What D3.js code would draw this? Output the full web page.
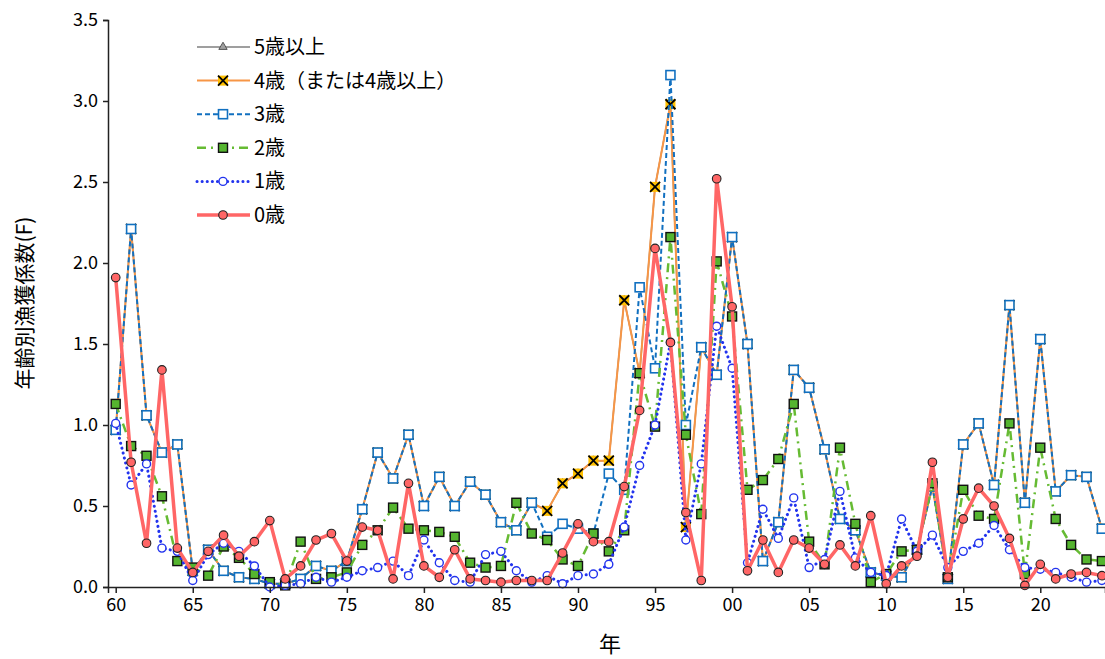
<!DOCTYPE html>
<html><head><meta charset="utf-8">
<script src="https://cdn.jsdelivr.net/npm/d3@7"></script>
<style>body{margin:0;background:#fff}text{font-family:"Noto Sans CJK JP","DejaVu Sans",sans-serif;fill:#000}</style>
</head><body><svg id="c" width="1105" height="659"></svg>
<script>
const years = d3.range(1960, 2025);
const age0 = [1.91,0.77,0.27,1.34,0.24,0.09,0.22,0.32,0.19,0.28,0.41,0.05,0.13,0.29,0.33,0.16,0.37,0.35,0.05,0.64,0.13,0.06,0.23,0.05,0.04,0.03,0.04,0.04,0.04,0.21,0.39,0.28,0.28,0.62,1.09,2.09,1.51,0.46,0.04,2.52,1.73,0.10,0.29,0.09,0.29,0.24,0.14,0.26,0.13,0.44,0.02,0.13,0.19,0.77,0.06,0.42,0.61,0.50,0.30,0.01,0.14,0.05,0.08,0.09,0.07];
const age1 = [1.01,0.63,0.76,0.24,0.22,0.04,0.20,0.27,0.22,0.13,0.00,0.01,0.02,0.06,0.03,0.06,0.10,0.12,0.16,0.07,0.29,0.15,0.04,0.03,0.20,0.22,0.10,0.03,0.07,0.02,0.07,0.08,0.14,0.37,0.75,1.00,1.51,0.29,0.76,1.61,1.35,0.15,0.48,0.30,0.55,0.12,0.17,0.59,0.18,0.09,0.07,0.42,0.22,0.32,0.12,0.22,0.27,0.38,0.23,0.12,0.11,0.09,0.06,0.03,0.04];
const age2 = [1.13,0.87,0.81,0.56,0.16,0.12,0.07,0.25,0.18,0.08,0.03,0.01,0.28,0.05,0.06,0.09,0.26,0.35,0.49,0.36,0.35,0.34,0.31,0.15,0.12,0.13,0.52,0.33,0.29,0.17,0.13,0.33,0.22,0.35,1.32,0.99,2.16,0.94,0.45,2.01,1.67,0.60,0.66,0.79,1.13,0.28,0.14,0.86,0.39,0.03,0.08,0.22,0.23,0.64,0.06,0.60,0.44,0.42,1.01,0.08,0.86,0.42,0.26,0.17,0.16];
const age3 = [0.97,2.21,1.06,0.83,0.88,0.10,0.23,0.10,0.06,0.05,0.02,0.02,0.05,0.13,0.10,0.16,0.48,0.83,0.67,0.94,0.50,0.68,0.50,0.65,0.57,0.40,0.35,0.52,0.31,0.39,0.36,0.33,0.70,0.60,1.85,1.35,3.16,1.00,1.48,1.31,2.16,1.50,0.16,0.40,1.34,1.23,0.85,0.42,0.35,0.09,0.07,0.06,0.23,0.62,0.05,0.88,1.01,0.63,1.74,0.52,1.53,0.59,0.69,0.68,0.36];
const age4 = [0.97,2.21,1.06,0.83,0.88,0.10,0.23,0.10,0.06,0.05,0.02,0.02,0.05,0.13,0.10,0.16,0.48,0.83,0.67,0.94,0.50,0.68,0.50,0.65,0.57,0.40,0.35,0.52,0.47,0.64,0.70,0.78,0.78,1.77,1.32,2.47,2.98,0.37,1.48,1.31,2.16,1.50,0.16,0.40,1.34,1.23,0.85,0.42,0.35,0.09,0.07,0.06,0.23,0.62,0.05,0.88,1.01,0.63,1.74,0.52,1.53,0.59,0.69,0.68,0.36];
const age5 = age4.slice();
const yTicks = [0,0.5,1,1.5,2,2.5,3,3.5];
const xTicks = [1960,1965,1970,1975,1980,1985,1990,1995,2000,2005,2010,2015,2020];
const labels = ["5歳以上","4歳（または4歳以上）","3歳","2歳","1歳","0歳"];

const svg = d3.select("#c");
const L=108,R=1105,T=20,B=587;
const x = d3.scaleLinear().domain([1959.5,2024.2]).range([L,R]);
const y = d3.scaleLinear().domain([0,3.5]).range([B,T]);

const styles = [
 {d:age5,c:"#7f7f7f",w:1.5,dash:null,m:"tri"},
 {d:age4,c:"#F79646",w:2,dash:null,m:"x"},
 {d:age3,c:"#1170C0",w:2,dash:"5,3",m:"sq_open"},
 {d:age2,c:"#66BB33",w:2.5,dash:"9,5,2,5",m:"sq_fill"},
 {d:age1,c:"#2233EE",w:3,dash:"0.1,5",m:"circ_open",cap:"round"},
 {d:age0,c:"#FF6666",w:3.5,dash:null,m:"circ_fill"}
];
function marker(g,m,c,cx,cy){
  if(m==="tri") g.append("path").attr("d",d3.symbol(d3.symbolTriangle,30)()).attr("transform",`translate(${cx},${cy})`).attr("fill","#a0a0a0").attr("stroke","#555");
  else if(m==="x"){g.append("rect").attr("x",cx-5).attr("y",cy-5).attr("width",10).attr("height",10).attr("fill","#FFC000");
    g.append("path").attr("d",`M${cx-5},${cy-5}L${cx+5},${cy+5}M${cx+5},${cy-5}L${cx-5},${cy+5}`).attr("stroke","#000").attr("stroke-width",1.8);}
  else if(m==="sq_open") g.append("rect").attr("x",cx-4.5).attr("y",cy-4.5).attr("width",9).attr("height",9).attr("fill","#fff").attr("stroke",c).attr("stroke-width",1.6);
  else if(m==="sq_fill") g.append("rect").attr("x",cx-4.5).attr("y",cy-4.5).attr("width",9).attr("height",9).attr("fill","#55B52F").attr("stroke","#111").attr("stroke-width",1.4);
  else if(m==="circ_open") g.append("circle").attr("cx",cx).attr("cy",cy).attr("r",4).attr("fill","#fff").attr("stroke",c).attr("stroke-width",1.4);
  else g.append("circle").attr("cx",cx).attr("cy",cy).attr("r",4.3).attr("fill",c).attr("stroke","#222").attr("stroke-width",1.1);
}
const line = d3.line().x((d,i)=>x(years[i])).y(d=>y(d));
styles.forEach(s=>{
  const g=svg.append("g");
  g.append("path").attr("d",line(s.d)).attr("fill","none").attr("stroke",s.c).attr("stroke-width",s.w).attr("stroke-dasharray",s.dash).attr("stroke-linecap",s.cap||"butt").attr("stroke-linejoin","round");
  s.d.forEach((v,i)=>marker(g,s.m,s.c,x(years[i]),y(v)));
});

const ya = svg.append("g").attr("transform",`translate(${L},0)`).call(d3.axisLeft(y).tickValues(yTicks).tickFormat(d3.format(".1f")).tickSize(5));
ya.selectAll("text").attr("font-size",18).attr("font-family","Noto Sans, sans-serif").attr("dx",-2);
const xa = svg.append("g").attr("transform",`translate(0,${B})`).call(d3.axisBottom(x).tickValues(xTicks).tickFormat(d=>String(d%100).padStart(2,"0")).tickSize(6));
xa.selectAll("text").attr("font-size",18).attr("font-family","Noto Sans, sans-serif").attr("dy","0.85em");
[ya,xa].forEach(a=>{a.selectAll("line,path").attr("stroke","#222").attr("stroke-width",1.5);});

svg.append("text").attr("x",610).attr("y",652).attr("text-anchor","middle").attr("font-size",22).text("年");
svg.append("text").attr("transform","translate(32,303) rotate(-90)").attr("text-anchor","middle").attr("font-size",21).text("年齢別漁獲係数(F)");

const lg = svg.append("g");
labels.forEach((t,i)=>{
  const s=styles[i], cy=47+i*33.6;
  lg.append("line").attr("x1",197).attr("x2",250).attr("y1",cy).attr("y2",cy).attr("stroke",s.c).attr("stroke-width",s.w).attr("stroke-dasharray",s.dash).attr("stroke-linecap",s.cap||"butt");
  marker(lg,s.m,s.c,223,cy);
  lg.append("text").attr("x",254).attr("y",cy+7).attr("font-size",20).text(t);
});
</script></body></html>
